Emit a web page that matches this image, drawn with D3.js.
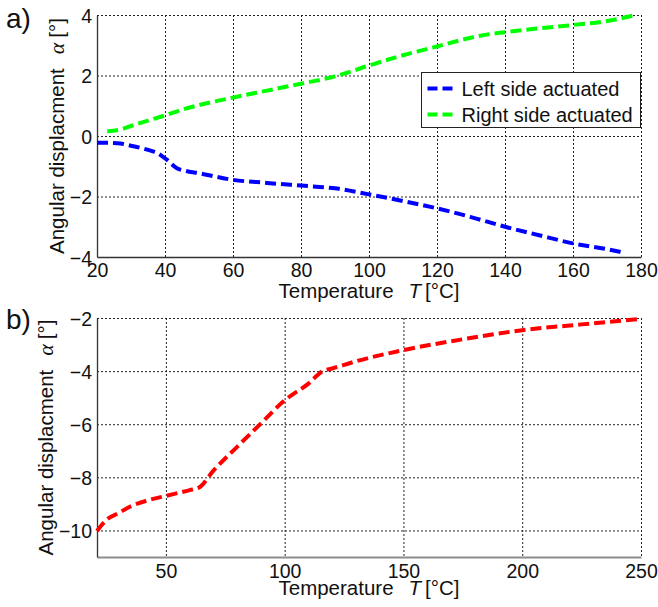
<!DOCTYPE html>
<html>
<head>
<meta charset="utf-8">
<script src="https://cdn.jsdelivr.net/npm/d3@7"></script>
<style>
  html, body { margin: 0; padding: 0; background: #fff; }
  svg { display: block; font-family: "Liberation Sans", Arial, sans-serif; }
</style>
</head>
<body>
<svg id="fig" width="658" height="607"></svg>
<script>
// Panel a): angular displacement vs temperature, two actuation sides
const tempLeft  = [20, 26, 30, 35, 38, 40.5, 43.5, 46, 50, 60, 70, 80, 90, 100, 110, 120, 130, 140, 150, 160, 170, 174];
const angleLeft = [-0.22, -0.24, -0.32, -0.46, -0.58, -0.78, -1.07, -1.15, -1.23, -1.45, -1.55, -1.64, -1.73, -1.93, -2.15, -2.39, -2.68, -3.0, -3.28, -3.55, -3.74, -3.83];

const tempRight  = [23, 27, 30, 35, 40, 45, 50, 60, 70, 80, 90, 100, 110, 120, 130, 135, 140, 150, 160, 170, 178];
const angleRight = [0.16, 0.22, 0.33, 0.51, 0.68, 0.87, 1.02, 1.27, 1.5, 1.73, 1.97, 2.33, 2.67, 2.96, 3.25, 3.36, 3.43, 3.56, 3.67, 3.8, 3.99];

// Panel b): single curve
const tempB  = [21, 25, 30, 35, 40, 50, 60, 64, 70, 80, 90, 100, 110, 116, 120, 130, 150, 175, 200, 225, 250];
const angleB = [-10.02, -9.6, -9.35, -9.1, -8.93, -8.7, -8.48, -8.38, -7.75, -6.85, -5.97, -5.1, -4.47, -4.0, -3.9, -3.63, -3.21, -2.8, -2.46, -2.24, -2.03];

const xTicksA = [20, 40, 60, 80, 100, 120, 140, 160, 180];
const yTicksA = [-4, -2, 0, 2, 4];
const xTicksB = [50, 100, 150, 200, 250];
const yTicksB = [-10, -8, -6, -4, -2];

const legendLabels = ["Left side actuated", "Right side actuated"];
const seriesColors = ["#0000ff", "#00ff00"];

const svg = d3.select("#fig");
svg.append("rect").attr("width", 658).attr("height", 607).attr("fill", "#fff");

const dashes = "11,5";

function drawPanel(opt) {
  const g = svg.append("g");
  const x = d3.scaleLinear().domain(opt.xDomain).range([opt.left, opt.right]);
  const y = d3.scaleLinear().domain(opt.yDomain).range([opt.bottom, opt.top]);

  // dotted grid
  const grid = g.append("g").attr("stroke", "#222").attr("stroke-width", 1)
    .attr("stroke-dasharray", "2,2").attr("fill", "none");
  opt.xTicks.forEach(t => {
    if (x(t) > opt.left + 1) grid.append("line")
      .attr("x1", x(t) + 0.5).attr("x2", x(t) + 0.5)
      .attr("y1", opt.top).attr("y2", opt.bottom);
  });
  opt.yTicks.forEach(t => {
    if (y(t) < opt.bottom - 1) grid.append("line")
      .attr("x1", opt.left).attr("x2", opt.right)
      .attr("y1", y(t) + 0.5).attr("y2", y(t) + 0.5);
  });

  // axes
  const xAxis = d3.axisBottom(x).tickValues(opt.xTicks).tickSize(0).tickPadding(opt.xPad);
  const yAxis = d3.axisLeft(y).tickValues(opt.yTicks).tickSize(0).tickPadding(5);
  const gx = g.append("g").attr("transform", `translate(0,${opt.bottom})`).call(xAxis);
  const gy = g.append("g").attr("transform", `translate(${opt.left},0)`).call(yAxis);
  gx.select(".domain").attr("stroke", opt.xAxisColor).attr("stroke-width", opt.xAxisWidth);
  gy.select(".domain").attr("stroke", "#333").attr("stroke-width", 1.3);
  [gx, gy].forEach(a => a.selectAll("text")
    .attr("font-size", 19.5).attr("fill", "#111")
    .attr("font-family", "Liberation Sans, Arial, sans-serif"));
  gx.selectAll("text").attr("dy", "0.72em");
  gy.selectAll("text").attr("dy", "0.36em");

  // data lines
  const line = d3.line().x(d => x(d[0])).y(d => y(d[1])).curve(d3.curveMonotoneX);
  opt.series.forEach(s => {
    g.append("path")
      .datum(s.t.map((t, i) => [t, s.v[i]]))
      .attr("d", line)
      .attr("fill", "none")
      .attr("stroke", s.color)
      .attr("stroke-width", 4)
      .attr("stroke-dasharray", dashes);
  });

  // axis titles
  const xl = g.append("text")
    .attr("x", (opt.left + opt.right) / 2).attr("y", opt.xLabelY)
    .attr("text-anchor", "middle").attr("font-size", 20.5).attr("fill", "#111");
  xl.append("tspan").text("Temperature");
  xl.append("tspan").attr("dx", 15).attr("font-style", "italic").text("T");
  xl.append("tspan").attr("dx", 4).text("[°C]");

  const cy = (opt.top + opt.bottom) / 2;
  const yl = g.append("text")
    .attr("transform", `translate(${opt.yLabelX},${cy}) rotate(-90)`)
    .attr("text-anchor", "middle").attr("font-size", 20.5).attr("fill", "#111");
  yl.append("tspan").text("Angular displacment");
  yl.append("tspan").attr("dx", 14).attr("font-style", "italic")
    .attr("font-family", "Liberation Serif, Times New Roman, serif").attr("font-size", 22).text("α");
  yl.append("tspan").attr("dx", 5).text("[°]");

  // panel tag
  g.append("text").attr("x", 6).attr("y", opt.tagY)
    .attr("font-size", 28).attr("fill", "#111").text(opt.tag);

  return { g, x, y };
}

const pa = drawPanel({
  left: 97, right: 641, top: 15, bottom: 257,
  xDomain: [20, 180], yDomain: [-4, 4],
  xTicks: xTicksA, yTicks: yTicksA,
  xAxisColor: "#333", xAxisWidth: 1.3, xPad: 6,
  xLabelY: 298, yLabelX: 64, tag: "a)", tagY: 28,
  series: [
    { t: tempLeft, v: angleLeft, color: seriesColors[0] },
    { t: tempRight, v: angleRight, color: seriesColors[1] }
  ]
});

drawPanel({
  left: 97, right: 641, top: 318, bottom: 557,
  xDomain: [21, 250], yDomain: [-11, -2],
  xTicks: xTicksB, yTicks: yTicksB,
  xAxisColor: "#8c8c8c", xAxisWidth: 2, xPad: 7,
  xLabelY: 595, yLabelX: 53, tag: "b)", tagY: 329,
  series: [
    { t: tempB, v: angleB, color: "#ff0000" }
  ]
});

// legend for panel a)
const lg = pa.g.append("g").attr("transform", "translate(421.5,72.5)");
lg.append("rect").attr("width", 219).attr("height", 55)
  .attr("fill", "#fff").attr("stroke", "#222").attr("stroke-width", 1);
legendLabels.forEach((lab, i) => {
  const cy = 16 + i * 26;
  lg.append("line").attr("x1", 6).attr("x2", 32).attr("y1", cy).attr("y2", cy)
    .attr("stroke", seriesColors[i]).attr("stroke-width", 4).attr("stroke-dasharray", "10,5");
  lg.append("text").attr("x", 40).attr("y", cy).attr("dy", "0.36em")
    .attr("font-size", 20).attr("fill", "#111").text(lab);
});
</script>
</body>
</html>
